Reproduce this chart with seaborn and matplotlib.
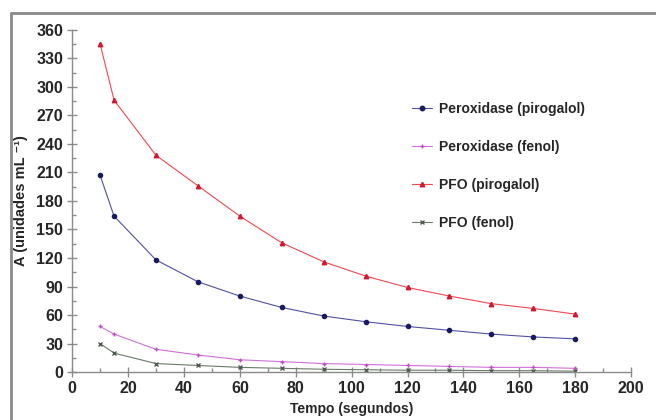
import matplotlib
matplotlib.use("Agg")
import matplotlib.pyplot as plt
import seaborn as sns
import pandas as pd
from matplotlib.ticker import MultipleLocator
from matplotlib.lines import Line2D

tempo = [10, 15, 30, 45, 60, 75, 90, 105, 120, 135, 150, 165, 180]
perox_pirogalol = [207, 164, 118, 95, 80, 68, 59, 53, 48, 44, 40, 37, 35]
perox_fenol = [48, 40, 24, 18, 13, 11, 9, 8, 7, 6, 5, 5, 4]
pfo_pirogalol = [345, 286, 228, 196, 164, 136, 116, 101, 89, 80, 72, 67, 61]
pfo_fenol = [30, 20, 9, 7, 5, 4, 3, 2.5, 2, 2, 1.5, 1.5, 1]

names = ["Peroxidase (pirogalol)", "Peroxidase (fenol)", "PFO (pirogalol)", "PFO (fenol)"]
series = [perox_pirogalol, perox_fenol, pfo_pirogalol, pfo_fenol]

rows = []
for n, vals in zip(names, series):
    for t, v in zip(tempo, vals):
        rows.append({"Tempo": t, "A": v, "Serie": n})
df = pd.DataFrame(rows)

sns.set_style("white")
fam = ["Liberation Sans", "DejaVu Sans"]
plt.rcParams["font.family"] = fam

line_colors = {names[0]: "#5050a8", names[1]: "#d070d8", names[2]: "#f04850", names[3]: "#6a7a6a"}
mk_colors = {names[0]: "#1a1a60", names[1]: "#c050c0", names[2]: "#d01830", names[3]: "#505a50"}
markers = {names[0]: "o", names[1]: "+", names[2]: "^", names[3]: "x"}
msizes = {names[0]: 3.0, names[1]: 3.2, names[2]: 3.2, names[3]: 2.8}

fig = plt.figure(figsize=(6.56, 4.2), dpi=100)
ax = fig.add_axes([0.110, 0.114, 0.852, 0.815])

for n in names:
    sub = df[df["Serie"] == n]
    sns.lineplot(data=sub, x="Tempo", y="A", ax=ax, color=line_colors[n], lw=0.8,
                 marker=markers[n], markersize=msizes[n], markeredgewidth=1.0,
                 markerfacecolor=mk_colors[n], markeredgecolor=mk_colors[n],
                 legend=False)

ax.set_xlim(0, 200)
ax.set_ylim(0, 360)
ax.xaxis.set_major_locator(MultipleLocator(20))
ax.xaxis.set_minor_locator(MultipleLocator(10))
ax.yaxis.set_major_locator(MultipleLocator(30))
ax.yaxis.set_minor_locator(MultipleLocator(15))
for s in ["top", "right"]:
    ax.spines[s].set_visible(False)
for s in ["left", "bottom"]:
    ax.spines[s].set_color("#8a8a8a")
    ax.spines[s].set_linewidth(1.0)
ax.tick_params(axis="both", which="major", direction="inout", length=7, width=1.0,
               color="#8a8a8a", labelsize=11.5, pad=3)
ax.tick_params(axis="y", which="minor", direction="in", length=3, width=1.0, color="#8a8a8a")
ax.tick_params(axis="x", which="minor", direction="in", length=3, width=1.0, color="#8a8a8a")
ax.tick_params(axis="both", which="both", left=True, bottom=True)
for lab in ax.get_xticklabels() + ax.get_yticklabels():
    lab.set_fontweight("bold")
ax.set_xlabel("Tempo (segundos)", fontsize=10, fontweight="bold", labelpad=4)
ax.set_ylabel("A (unidades mL \u207b\u00b9)", fontsize=10.5, fontweight="bold", labelpad=6)

handles = [Line2D([0], [0], color=line_colors[n], lw=0.8, marker=markers[n], markersize=3.2,
                  markerfacecolor=mk_colors[n], markeredgecolor=mk_colors[n]) for n in names]
ax.legend(handles, names, loc="upper left", bbox_to_anchor=(0.585, 0.825), frameon=False,
          handlelength=1.5, labelspacing=1.72, handletextpad=0.5,
          prop={"family": fam, "weight": "bold", "size": 10})

# figure frame (left and top edges)
fig.add_artist(Line2D([0.017, 0.017], [0, 0.97], transform=fig.transFigure, color="#8a8a8a", lw=2))
fig.add_artist(Line2D([0.017, 1.0], [0.97, 0.97], transform=fig.transFigure, color="#8a8a8a", lw=2))

fig.savefig("out.png", dpi=100)
